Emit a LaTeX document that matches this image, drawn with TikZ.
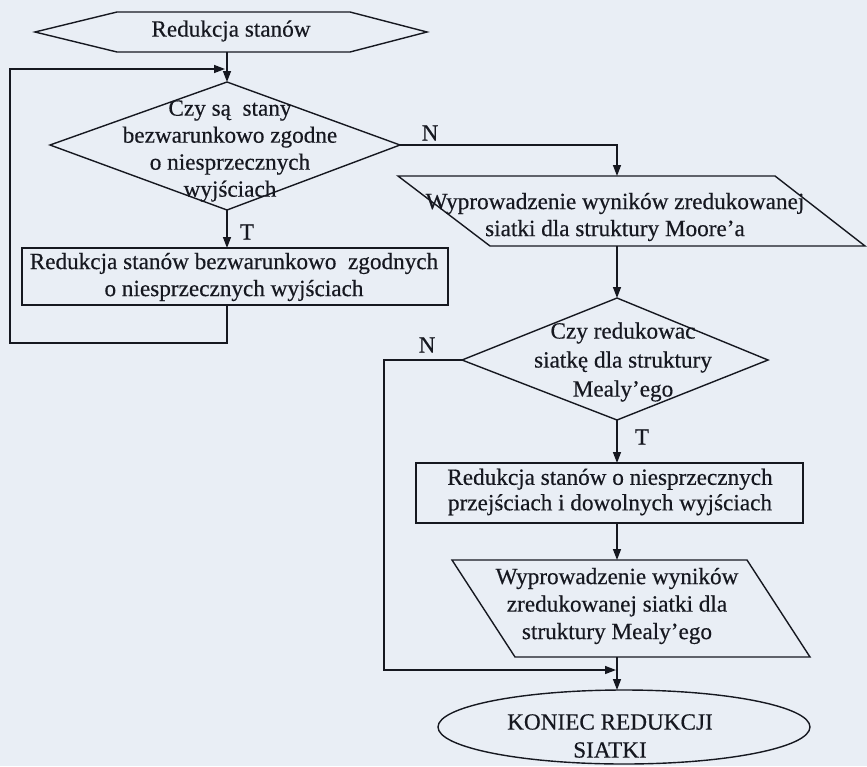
\documentclass[tikz,border=0pt]{standalone}
\usepackage{fontspec}
\setmainfont[FakeBold=0.4]{Liberation Serif}
\usetikzlibrary{arrows.meta,shapes.geometric}
\definecolor{paper}{RGB}{233,238,245}
\definecolor{ink}{RGB}{22,24,32}
\begin{document}
\begin{tikzpicture}[x=1pt,y=-1pt,line width=1.4pt,color=ink,
  txt/.style={font=\fontsize{23.2}{27}\selectfont,align=center,inner sep=0pt,text=ink},
  lbl/.style={font=\fontsize{23}{26}\selectfont,inner sep=0pt,text=ink},
  arr/.style={-{Triangle[length=11pt,width=8pt]}}]
\fill[paper] (0,0) rectangle (867,766);
\useasboundingbox (0,0) rectangle (867,766);

% start
\coordinate (hb) at (227,52);
\draw (35,32) -- (117,12) -- (350,12) -- (427,32) -- (350,52) -- (117,52) -- cycle;
\node[txt] (tstart) at (231,31) {Redukcja stanów};

% decision 1
\coordinate (d1t) at (227,82);
\coordinate (d1l) at (50,145);
\coordinate (d1r) at (400,145);
\coordinate (d1b) at (227,210);
\draw (d1t) -- (d1r) -- (d1b) -- (d1l) -- cycle;
\node[txt] (td1) at (230,151) {Czy są \ stany\\bezwarunkowo zgodne\\o niesprzecznych\\wyjściach};

% box 1
\coordinate (r1t) at (227,248);
\coordinate (r1b) at (227,305);
\draw (22,248) rectangle (448,305);
\node[txt] (tr1) at (234,277) {Redukcja stanów bezwarunkowo \ zgodnych\\o niesprzecznych wyjściach};

% loop
\coordinate (lpa) at (227,343);
\coordinate (lpb) at (10,343);
\coordinate (lpc) at (10,69);
\coordinate (lpd) at (225,69);

% output Moore
\coordinate (m1) at (617,145);
\coordinate (p1t) at (617,176);
\coordinate (p1b) at (617,246);
\draw (398,176) -- (775,176) -- (865,246) -- (490,246) -- cycle;
\node[txt] (tp1) at (615,217) {Wyprowadzenie wyników zredukowanej\\siatki dla struktury Moore’a};

% decision 2
\coordinate (d2t) at (617,298);
\coordinate (d2l) at (462,360);
\coordinate (d2r) at (768,360);
\coordinate (d2b) at (617,420);
\draw (d2t) -- (d2r) -- (d2b) -- (d2l) -- cycle;
\node[txt,font=\fontsize{23.2}{29}\selectfont] (td2) at (623,362) {Czy redukowac\\siatkę dla struktury\\Mealy’ego};

% box 2
\coordinate (r2t) at (617,463);
\coordinate (r2b) at (617,523);
\draw (416,463) rectangle (803,523);
\node[txt,font=\fontsize{23.2}{25.5}\selectfont] (tr2) at (610,492) {Redukcja stanów o niesprzecznych\\przejściach i dowolnych wyjściach};

% output Mealy
\coordinate (p2t) at (617,560);
\coordinate (p2b) at (617,657);
\draw (452,560) -- (747,560) -- (810,657) -- (515,657) -- cycle;
\node[txt,font=\fontsize{23.2}{27.5}\selectfont] (tp2) at (617,606) {Wyprowadzenie wyników\\zredukowanej siatki dla\\struktury Mealy’ego};

% end
\node[ellipse,draw,minimum width=372pt,minimum height=74pt,inner sep=0pt] (en) at (624,727) {};
\coordinate (ent) at (617,690);
\node[txt,font=\fontsize{23.2}{28}\selectfont] (ten) at (610,736) {KONIEC REDUKCJI\\SIATKI};

% N2 path
\coordinate (n2a) at (384,360);
\coordinate (n2b) at (384,670);
\coordinate (n2c) at (616,670);

% connectors
\draw[arr] (hb) -- (d1t);
\draw[arr] (d1b) -- (r1t);
\draw[arr] (r1b) -- (lpa) -- (lpb) -- (lpc) -- (lpd);
\draw[arr] (d1r) -- (m1) -- (p1t);
\draw[arr] (p1b) -- (d2t);
\draw[arr] (d2b) -- (r2t);
\draw[arr] (r2b) -- (p2t);
\draw[arr] (p2b) -- (ent);
\draw[arr] (d2l) -- (n2a) -- (n2b) -- (n2c);

% labels
\node[lbl] (lt1) at (247,232) {T};
\node[lbl] (ln1) at (430,133) {N};
\node[lbl] (ln2) at (427,345) {N};
\node[lbl] (lt2) at (642,437) {T};
\end{tikzpicture}
\end{document}
